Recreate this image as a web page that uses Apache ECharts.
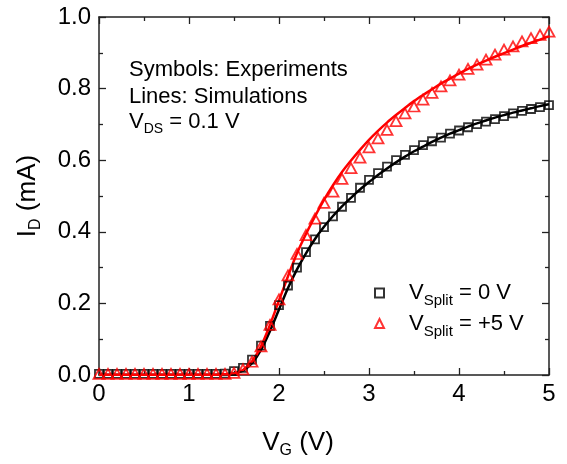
<!DOCTYPE html>
<html>
<head>
<meta charset="utf-8">
<script src="https://cdn.jsdelivr.net/npm/echarts@6/dist/echarts.min.js"></script>
<style>
  html, body { margin: 0; padding: 0; background: #fff; }
  #chart { width: 567px; height: 464px; }
</style>
</head>
<body>
<div id="chart"></div>
<script>
  // measured gate voltage (V)
  const vgExp = [0, 0.1, 0.2, 0.3, 0.4, 0.5, 0.6, 0.7, 0.8, 0.9,
                 1.0, 1.1, 1.2, 1.3, 1.4, 1.5, 1.6, 1.7, 1.8, 1.9,
                 2.0, 2.1, 2.2, 2.3, 2.4, 2.5, 2.6, 2.7, 2.8, 2.9,
                 3.0, 3.1, 3.2, 3.3, 3.4, 3.5, 3.6, 3.7, 3.8, 3.9,
                 4.0, 4.1, 4.2, 4.3, 4.4, 4.5, 4.6, 4.7, 4.8, 4.9, 5.0];
  // experiments, I_D (mA)
  const idExp0 = [0.003, 0.003, 0.003, 0.003, 0.003, 0.003, 0.003, 0.003, 0.003, 0.003,
                  0.003, 0.003, 0.003, 0.003, 0.004, 0.011, 0.020, 0.043, 0.082, 0.137,
                  0.195, 0.250, 0.300, 0.343, 0.379, 0.413, 0.443, 0.470, 0.495, 0.523,
                  0.545, 0.564, 0.582, 0.600, 0.615, 0.628, 0.642, 0.653, 0.663, 0.674,
                  0.683, 0.692, 0.701, 0.708, 0.715, 0.723, 0.731, 0.738, 0.743, 0.748, 0.754];
  const idExp5 = [0.003, 0.003, 0.003, 0.003, 0.003, 0.003, 0.003, 0.003, 0.003, 0.003,
                  0.003, 0.003, 0.003, 0.003, 0.003, 0.006, 0.016, 0.037, 0.080, 0.140,
                  0.211, 0.278, 0.338, 0.391, 0.437, 0.481, 0.512, 0.548, 0.578, 0.607,
                  0.636, 0.661, 0.685, 0.709, 0.731, 0.750, 0.769, 0.788, 0.806, 0.823,
                  0.839, 0.855, 0.867, 0.881, 0.895, 0.909, 0.918, 0.932, 0.941, 0.950, 0.959];

  // simulations
  const vgSim = [0, 1.0, 1.3, 1.4, 1.5, 1.6, 1.7, 1.8, 1.9, 2.0,
                 2.1, 2.2, 2.3, 2.4, 2.5, 2.6, 2.7, 2.8, 2.9, 3.0,
                 3.1, 3.2, 3.3, 3.4, 3.5, 3.6, 3.7, 3.8, 3.9, 4.0,
                 4.1, 4.2, 4.3, 4.4, 4.5, 4.6, 4.7, 4.8, 4.9, 5.0];
  const idSim0 = [0.001, 0.001, 0.001, 0.002, 0.004, 0.012, 0.033, 0.070, 0.123, 0.183,
                  0.243, 0.295, 0.340, 0.380, 0.414, 0.444, 0.471, 0.495, 0.518, 0.539,
                  0.559, 0.577, 0.594, 0.610, 0.625, 0.638, 0.651, 0.663, 0.674, 0.684,
                  0.694, 0.703, 0.711, 0.719, 0.726, 0.733, 0.739, 0.745, 0.751, 0.756];
  const idSim5 = [0.001, 0.001, 0.001, 0.002, 0.004, 0.014, 0.038, 0.080, 0.140, 0.208,
                  0.276, 0.340, 0.394, 0.443, 0.489, 0.530, 0.567, 0.599, 0.629, 0.657,
                  0.682, 0.705, 0.726, 0.746, 0.765, 0.782, 0.798, 0.814, 0.828, 0.842,
                  0.855, 0.867, 0.878, 0.889, 0.899, 0.909, 0.919, 0.928, 0.937, 0.946];

  const legendNames = {
    'Vsplit0': '{g|}{m|V}{s|Split}{m| = 0 V}',
    'Vsplit5': '{g|}{m|V}{s|Split}{m| = +5 V}'
  };

  const zip = (xs, ys) => xs.map((x, i) => [x, ys[i]]);
  const FONT = 'Liberation Sans, Arial, sans-serif';

  const axisCommon = {
    type: 'value',
    axisLine: { show: true, onZero: false, lineStyle: { color: '#222', width: 1.5 } },
    axisTick: { show: true, inside: true, length: 7, lineStyle: { color: '#222', width: 1.3 } },
    minorTick: { show: true, splitNumber: 2, length: 4, lineStyle: { color: '#222', width: 1.3 } },
    splitLine: { show: false }
  };

  const chart = echarts.init(document.getElementById('chart'));
  chart.setOption({
    animation: false,
    backgroundColor: '#fff',
    textStyle: { fontFamily: FONT },
    grid: { left: 99, right: 18, top: 17, bottom: 85 },
    xAxis: [
      Object.assign({}, axisCommon, {
        min: 0, max: 5, interval: 1, position: 'bottom',
        axisLabel: { color: '#000', fontSize: 24, margin: 7, fontFamily: FONT },
        name: '{m|V}{s|G}{m| (V)}',
        nameLocation: 'middle',
        nameGap: 52,
        nameTextStyle: {
          padding: [0, 52, 0, 0],
          rich: {
            m: { fontSize: 26, color: '#000', fontFamily: FONT },
            s: { fontSize: 16, color: '#000', fontFamily: FONT, padding: [16, 0, 0, 0] }
          }
        }
      }),
      Object.assign({}, axisCommon, {
        min: 0, max: 5, interval: 1, position: 'top',
        axisLabel: { show: false }
      })
    ],
    yAxis: [
      Object.assign({}, axisCommon, {
        min: 0, max: 1, interval: 0.2, position: 'left',
        axisLabel: { color: '#000', fontSize: 24, margin: 8, fontFamily: FONT,
          formatter: v => v.toFixed(1) },
        name: '{m|I}{s|D}{m| (mA)}',
        nameLocation: 'middle',
        nameRotate: 90,
        nameGap: 55,
        nameTextStyle: {
          rich: {
            m: { fontSize: 26, color: '#000', fontFamily: FONT },
            s: { fontSize: 16, color: '#000', fontFamily: FONT, padding: [16, 0, 0, 0] }
          }
        }
      }),
      Object.assign({}, axisCommon, {
        min: 0, max: 1, interval: 0.2, position: 'right',
        axisLabel: { show: false }
      })
    ],
    legend: {
      orient: 'vertical',
      left: 369, top: 277,
      itemWidth: 9, itemHeight: 9,
      itemGap: 4,
      data: ['Vsplit0', 'Vsplit5'],
      formatter: name => legendNames[name],
      textStyle: {
        rich: {
          g: { width: 20 },
          m: { fontSize: 22, color: '#000', fontFamily: FONT },
          s: { fontSize: 15, color: '#000', fontFamily: FONT, padding: [16, 0, 0, 0] }
        }
      }
    },
    graphic: [
      { type: 'text', left: 129, top: 59,
        style: { text: 'Symbols: Experiments', font: '22px ' + FONT, fill: '#000' } },
      { type: 'text', left: 129, top: 86,
        style: { text: 'Lines: Simulations', font: '22px ' + FONT, fill: '#000' } },
      { type: 'text', left: 129, top: 111,
        style: {
          text: '{m|V}{s|DS}{m| = 0.1 V}',
          rich: {
            m: { fontSize: 22, fill: '#000', fontFamily: FONT },
            s: { fontSize: 14, fill: '#000', fontFamily: FONT, padding: [14, 0, 0, 0] }
          }
        } }
    ],
    series: [
      {
        name: 'sim0', type: 'line', data: zip(vgSim, idSim0),
        smooth: 0.3, showSymbol: false,
        lineStyle: { color: '#000', width: 2.5 }, z: 2
      },
      {
        name: 'sim5', type: 'line', data: zip(vgSim, idSim5),
        smooth: 0.3, showSymbol: false,
        lineStyle: { color: '#ff0000', width: 2.5 }, z: 2
      },
      {
        name: 'Vsplit0', type: 'scatter', data: zip(vgExp, idExp0),
        symbol: 'rect', symbolSize: 8,
        itemStyle: { color: 'rgba(0,0,0,0)', borderColor: '#000', borderWidth: 1.8 }, z: 3
      },
      {
        name: 'Vsplit5', type: 'scatter', data: zip(vgExp, idExp5),
        symbol: 'triangle', symbolSize: [11, 10],
        itemStyle: { color: 'rgba(0,0,0,0)', borderColor: '#ff0000', borderWidth: 1.8 }, z: 3
      }
    ]
  });
</script>
</body>
</html>
